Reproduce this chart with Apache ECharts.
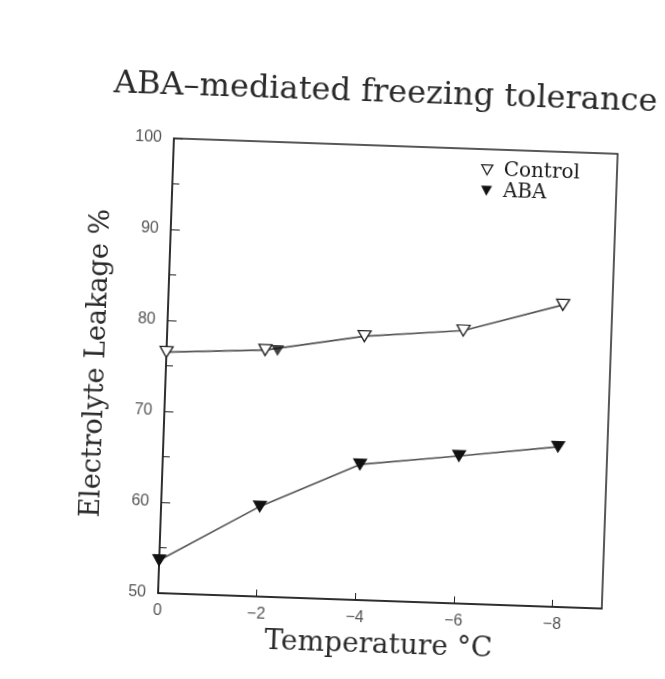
<!DOCTYPE html>
<html>
<head>
<meta charset="utf-8">
<script src="https://cdn.jsdelivr.net/npm/echarts@6/dist/echarts.min.js"></script>
<style>
  html, body { margin: 0; padding: 0; background: #ffffff; overflow: hidden; }
  #chart { width: 665px; height: 679px; transform: rotate(2deg); transform-origin: 50% 50%; }
</style>
</head>
<body>
<div id="chart"></div>
<script>
// ---- data ----
const temperatures = [0, -2, -4, -6, -8];            // °C
const controlLeakage = [76.5, 77.1, 79.0, 80.0, 83.2]; // %
const abaLeakage = [53.6, 59.9, 64.9, 66.2, 67.6];     // %
const abaExtraTemp = [-2.25];                          // stray ABA marker on the control line
const abaExtraLeakage = [77.1];
const xTickValues = [0, -2, -4, -6, -8];
const yTickValues = [50, 60, 70, 80, 90, 100];

const pairs = (xs, ys) => xs.map((x, i) => [x, ys[i]]);
const downTri = 'path://M0,0 L10,0 L5,9 Z';
const serif = '"DejaVu Serif", "Liberation Serif", serif';

const chart = echarts.init(document.getElementById('chart'), null, { renderer: 'canvas' });
chart.setOption({
  backgroundColor: '#ffffff',
  animation: false,
  title: {
    text: 'ABA\u2013mediated freezing tolerance',
    left: 372,
    top: 71,
    textAlign: 'center',
    textStyle: { fontFamily: serif, fontSize: 32, fontWeight: 'normal', color: '#2a2a2a' }
  },
  legend: {
    orient: 'vertical',
    left: 470,
    top: 149,
    itemWidth: 11,
    itemHeight: 10,
    itemGap: 0,
    textStyle: { fontFamily: serif, fontSize: 20, lineHeight: 21, color: '#1a1a1a', padding: [0, 0, 0, 6] },
    data: [
      { name: 'Control', icon: downTri, itemStyle: { color: '#fff', borderColor: '#222', borderWidth: 1.3 } },
      { name: 'ABA', icon: downTri, itemStyle: { color: '#111', borderColor: '#111' } }
    ]
  },
  grid: {
    left: 167, right: 54, top: 144, bottom: 80,
    show: true, borderColor: '#222', borderWidth: 1.5, backgroundColor: 'transparent'
  },
  xAxis: {
    type: 'value',
    min: -9, max: 0, inverse: true,
    name: 'Temperature \u00B0C',
    nameLocation: 'middle',
    nameGap: 28,
    nameTextStyle: { fontFamily: serif, fontSize: 28, color: '#2a2a2a' },
    axisLine: { show: true, lineStyle: { color: '#222', width: 1.5 } },
    axisTick: { show: true, inside: true, length: 7, customValues: xTickValues, lineStyle: { color: '#222' } },
    axisLabel: {
      customValues: xTickValues,
      margin: 10,
      fontFamily: '"Liberation Sans", Arial, sans-serif', fontSize: 16, color: '#555',
      formatter: v => (v === 0 ? '0' : '\u2212' + Math.abs(v))
    },
    splitLine: { show: false }
  },
  yAxis: {
    type: 'value',
    min: 50, max: 100, interval: 10,
    name: 'Electrolyte Leakage %',
    nameLocation: 'middle',
    nameGap: 56,
    nameTextStyle: { fontFamily: serif, fontSize: 27, color: '#2a2a2a' },
    axisLine: { show: true, lineStyle: { color: '#222', width: 1.5 } },
    axisTick: { show: true, inside: true, length: 9, lineStyle: { color: '#222' } },
    minorTick: { show: true, splitNumber: 2, length: 7, lineStyle: { color: '#222' } },
    axisLabel: {
      customValues: yTickValues,
      margin: 12,
      fontFamily: '"Liberation Sans", Arial, sans-serif', fontSize: 16, color: '#555'
    },
    splitLine: { show: false }
  },
  series: [
    {
      name: 'Control', type: 'line',
      data: pairs(temperatures, controlLeakage),
      symbol: 'triangle', symbolRotate: 180, symbolSize: [13, 11],
      itemStyle: { color: '#fff', borderColor: '#222', borderWidth: 1.3 },
      lineStyle: { color: '#555', width: 1.6 },
      z: 3
    },
    {
      name: 'ABA', type: 'line',
      data: pairs(temperatures, abaLeakage),
      symbol: 'triangle', symbolRotate: 180, symbolSize: [13, 11],
      itemStyle: { color: '#111', borderColor: '#111' },
      lineStyle: { color: '#555', width: 1.6 },
      z: 4
    },
    {
      name: 'ABA', type: 'scatter',
      data: pairs(abaExtraTemp, abaExtraLeakage),
      symbol: 'triangle', symbolRotate: 180, symbolSize: [13, 11],
      itemStyle: { color: '#111' },
      z: 4
    }
  ]
});
</script>
</body>
</html>
